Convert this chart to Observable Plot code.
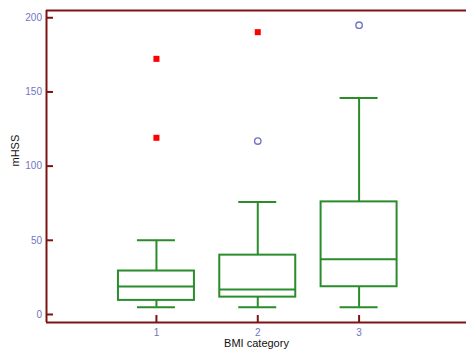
<!DOCTYPE html>
<html>
<head>
<meta charset="utf-8">
<script src="https://cdn.jsdelivr.net/npm/d3@7"></script>
<script src="https://cdn.jsdelivr.net/npm/@observablehq/plot@0.6"></script>
<style>
  html, body { margin: 0; padding: 0; background: #fff; }
  svg { display: block; }
</style>
</head>
<body>
<div id="chart"></div>
<script>
// Data
const categories = [1, 2, 3];
const lowerWhisker = [4.9, 4.9, 4.9];
const q1 = [9.5, 11.7, 18.7];
const median = [18.9, 16.9, 37.2];
const q3 = [29.3, 40.0, 75.9];
const upperWhisker = [50.0, 75.9, 146.0];
// far-out values (red squares) and outside values (blue circles)
const farOutCat = [1, 1, 2];
const farOutVal = [172.3, 119.1, 190.3];
const outsideCat = [2, 3];
const outsideVal = [116.9, 195.0];
const yTicks = [0, 50, 100, 150, 200];
const xTicks = [1, 2, 3];
const xTitle = "BMI category";
const yTitle = "mHSS";

const boxes = categories.map((c, i) => ({
  cat: c, lo: lowerWhisker[i], q1: q1[i], med: median[i], q3: q3[i], hi: upperWhisker[i]
}));
const farOut = farOutCat.map((c, i) => ({cat: c, v: farOutVal[i]}));
const outside = outsideCat.map((c, i) => ({cat: c, v: outsideVal[i]}));

const xDomain = [-0.085, 4.06];
const yDomain = [-5.4, 204.9];
const boxHalf = 0.375;
const capHalf = 0.1875;

const axisColor = "#7d1414";
const labelColor = "#7373c4";
const green = "#2a8c2a";

const chart = Plot.plot({
  width: 466,
  height: 352,
  marginLeft: 46,
  marginRight: 0,
  marginTop: 10,
  marginBottom: 30,
  style: {fontFamily: "'Liberation Sans', Arial, sans-serif", background: "#fff"},
  x: {type: "linear", domain: xDomain},
  y: {type: "linear", domain: yDomain},
  marks: [
    // axis lines
    Plot.ruleX([xDomain[0]], {stroke: axisColor, strokeWidth: 2}),
    Plot.ruleY([yDomain[0]], {stroke: axisColor, strokeWidth: 2}),
    Plot.ruleY([yDomain[1]], {stroke: axisColor, strokeWidth: 2}),
    Plot.axisY({ticks: yTicks, tickSize: -7, tickPadding: 11.5, stroke: axisColor, strokeWidth: 2, fill: labelColor, fontSize: 10, label: null}),
    Plot.axisX({ticks: xTicks, tickSize: -7, tickPadding: 13, stroke: axisColor, strokeWidth: 2, fill: labelColor, fontSize: 10, label: null, tickFormat: d3.format("d")}),
    // whiskers
    Plot.ruleX(boxes, {x: "cat", y1: "q3", y2: "hi", stroke: green, strokeWidth: 2}),
    Plot.ruleX(boxes, {x: "cat", y1: "lo", y2: "q1", stroke: green, strokeWidth: 2}),
    Plot.ruleY(boxes, {y: "hi", x1: d => d.cat - capHalf, x2: d => d.cat + capHalf, stroke: green, strokeWidth: 2}),
    Plot.ruleY(boxes, {y: "lo", x1: d => d.cat - capHalf, x2: d => d.cat + capHalf, stroke: green, strokeWidth: 2}),
    // boxes
    Plot.rect(boxes, {x1: d => d.cat - boxHalf, x2: d => d.cat + boxHalf, y1: "q1", y2: "q3", fill: "none", stroke: green, strokeWidth: 2}),
    Plot.ruleY(boxes, {y: "med", x1: d => d.cat - boxHalf, x2: d => d.cat + boxHalf, stroke: green, strokeWidth: 2}),
    // outliers
    Plot.dot(farOut, {x: "cat", y: "v", symbol: "square", r: 3.4, fill: "#ff0000", stroke: "none"}),
    Plot.dot(outside, {x: "cat", y: "v", symbol: "circle", r: 3.2, fill: "none", stroke: labelColor, strokeWidth: 1.4}),
    // titles
    Plot.text([xTitle], {frameAnchor: "bottom", dy: 24, fontSize: 11, fill: "#111"}),
    Plot.text([yTitle], {frameAnchor: "left", dx: -31, dy: 0, rotate: -90, fontSize: 11, fill: "#111"})
  ]
});
document.getElementById("chart").appendChild(chart);
</script>
</body>
</html>
